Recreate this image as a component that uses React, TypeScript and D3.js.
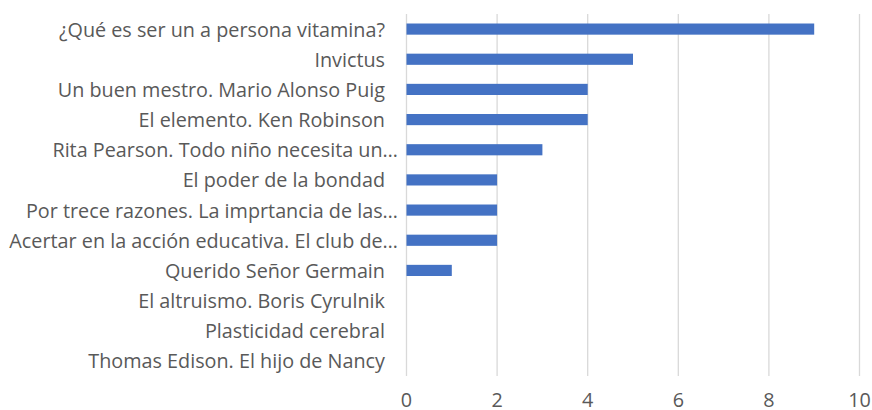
import React from "react";
import * as d3 from "d3";

const categories = [
  "¿Qué es ser un a persona vitamina?",
  "Invictus",
  "Un buen mestro. Mario Alonso Puig",
  "El elemento. Ken Robinson",
  "Rita Pearson. Todo niño necesita un…",
  "El poder de la bondad",
  "Por trece razones. La imprtancia de las…",
  "Acertar en la acción educativa. El club de…",
  "Querido Señor Germain",
  "El altruismo. Boris Cyrulnik",
  "Plasticidad cerebral",
  "Thomas Edison. El hijo de Nancy",
];
const values = [9, 5, 4, 4, 3, 2, 2, 2, 1, 0, 0, 0];
const xTicks = [0, 2, 4, 6, 8, 10];

const W = 872;
const H = 410;
const margin = { left: 406.5, right: 12, top: 14, bottom: 34 };

export default function App() {
  const x = d3.scaleLinear().domain([0, 10]).range([margin.left, W - margin.right - 0.5]);
  const y = d3
    .scaleBand<string>()
    .domain(categories)
    .range([margin.top, H - margin.bottom])
    .paddingInner(0.63)
    .paddingOuter(0.315);
  const font = "'Open Sans', sans-serif";
  return (
    <svg width={W} height={H} style={{ position: "absolute", left: 0, top: 0, background: "#fff" }}>
      {xTicks.map((t) => (
        <line key={t} x1={x(t)} x2={x(t)} y1={margin.top} y2={H - margin.bottom} stroke="#d9d9d9" strokeWidth={1.3} />
      ))}
      {categories.map((c, i) => (
        <rect key={c} x={x(0)} y={y(c)} width={x(values[i]) - x(0)} height={y.bandwidth()} fill="#4472C4" />
      ))}
      {categories.map((c) => {
        const trunc = c.endsWith("…");
        return (
          <text
            key={c}
            x={trunc ? 398 : 385}
            y={(y(c) as number) + y.bandwidth() / 2}
            textAnchor="end"
            dominantBaseline="central"
            fontFamily={font}
            fontSize={19.8}
            fill="#595959"
          >
            {c}
          </text>
        );
      })}
      {xTicks.map((t) => (
        <text key={t} x={x(t)} y={399} textAnchor="middle" dominantBaseline="central" fontFamily={font} fontSize={19.8} fill="#595959">
          {t}
        </text>
      ))}
    </svg>
  );
}
